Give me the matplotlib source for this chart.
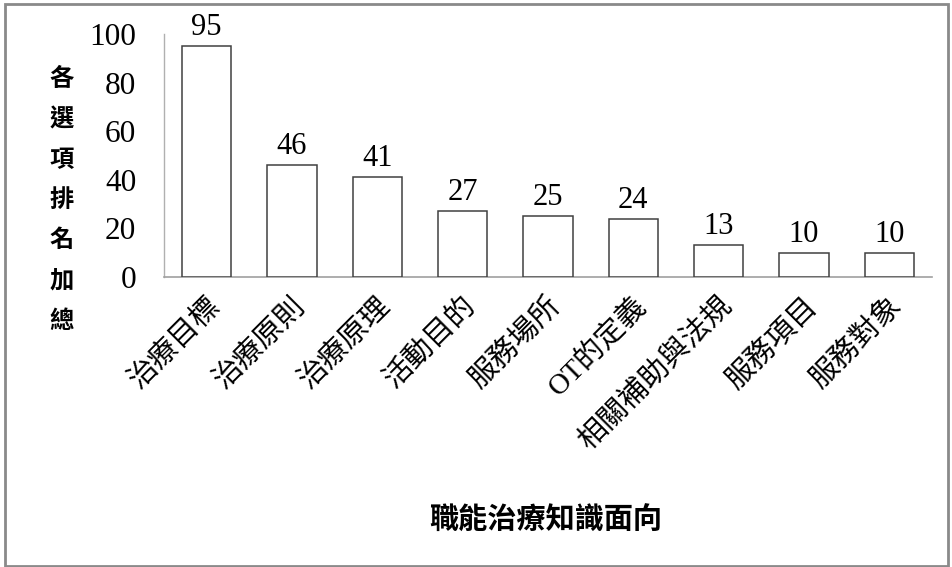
import matplotlib
matplotlib.use("Agg")
import matplotlib.pyplot as plt
from matplotlib.patches import Rectangle

categories = ["治療目標", "治療原則", "治療原理", "活動目的", "服務場所",
              "OT的定義", "相關補助與法規", "服務項目", "服務對象"]
values = [95, 46, 41, 27, 25, 24, 13, 10, 10]
yticks = [0, 20, 40, 60, 80, 100]
ylabel = "各選項排名加總"
xlabel = "職能治療知識面向"

serif = ["Liberation Serif", "Noto Sans CJK TC"]
cjk = ["Noto Sans CJK TC", "DejaVu Sans"]

fig = plt.figure(figsize=(9.53, 5.67), dpi=100)
fig.patch.set_facecolor("white")
ax = fig.add_axes([164/953, 1-277/567, (932-164)/953, (277-34)/567])

x = list(range(len(categories)))
bars = ax.bar(x, values, width=0.575, facecolor="white", edgecolor="#404040", linewidth=1.1, zorder=3)
for xi, v in zip(x, values):
    ax.annotate(str(v), (xi, v), xytext=(0, 3), textcoords="offset points",
                ha="center", va="bottom", fontsize=22, family=serif, annotation_clip=False)

ax.set_xlim(-0.5, len(categories) - 0.5)
ax.set_ylim(0, 100)
ax.set_yticks(yticks)
ax.set_yticklabels([str(t) for t in yticks], family=serif, fontsize=22.5)
ax.tick_params(axis="y", length=0, pad=20)
ax.set_xticks(x)
ax.set_xticklabels(categories, rotation=45, ha="right", va="top", rotation_mode="anchor",
                   family=serif, fontsize=21)
ax.tick_params(axis="x", length=0, pad=11)

for s in ["top", "right"]:
    ax.spines[s].set_visible(False)
ax.spines["left"].set_color("#b0b0b0")
ax.spines["bottom"].set_color("#a0a0a0")
ax.spines["left"].set_linewidth(1.0)
ax.spines["bottom"].set_linewidth(1.2)

fig.text(62/953, 1-200/567, "\n".join(ylabel), ha="center", va="center",
         fontsize=17.5, fontweight="bold", family=cjk, linespacing=1.86)
fig.text(546/953, 1-520/567, xlabel, ha="center", va="center",
         fontsize=21, fontweight="bold", family=cjk)

fig.patches.append(Rectangle((5/953, 1/567), (948-5)/953, (563-1)/567,
                             transform=fig.transFigure, fill=False,
                             edgecolor="#8a8a8a", linewidth=2))

fig.savefig("out.png", dpi=100)
